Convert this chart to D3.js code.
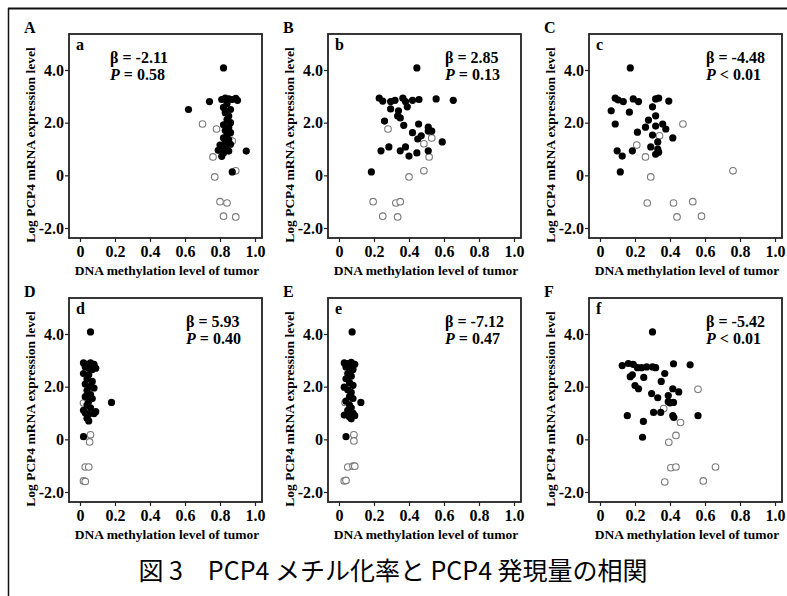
<!DOCTYPE html>
<html>
<head>
<meta charset="utf-8">
<script src="https://cdn.jsdelivr.net/npm/d3@7"></script>
<style>
  html, body { margin: 0; padding: 0; background: #fff; }
  svg { display: block; }
  .serif { font-family: 'Liberation Serif', 'Times New Roman', serif; font-weight: bold; }
</style>
</head>
<body>
<svg id="chart" width="787" height="596"></svg>
<script>
// ---------------- DATA ----------------
const xTickValues = [0, 0.2, 0.4, 0.6, 0.8, 1.0];
const xTickLabels = ["0", "0.2", "0.4", "0.6", "0.8", "1.0"];
const yTickValues = [-2, 0, 2, 4];
const yTickLabels = ["-2.0", "0", "2.0", "4.0"];

const panelLetters = ["A", "B", "C", "D", "E", "F"];
const innerLetters = ["a", "b", "c", "d", "e", "f"];
const betaValues = ["-2.11", "2.85", "-4.48", "5.93", "-7.12", "-5.42"];
const pValues = ["= 0.58", "= 0.13", "< 0.01", "= 0.40", "= 0.47", "< 0.01"];

const xTitle = "DNA methylation level of tumor";
const yTitle = "Log PCP4 mRNA expression level";
const caption = "図 3\u3000PCP4 メチル化率と PCP4 発現量の相関";

const filledA = [[0.82,4.08],[0.62,2.50],[0.74,2.80],[0.81,2.88],[0.83,2.93],[0.85,2.90],[0.87,2.88],[0.89,2.92],[0.90,2.85],[0.84,2.72],[0.82,2.58],[0.86,2.50],[0.83,2.38],[0.85,2.25],[0.84,2.12],[0.86,2.00],[0.82,1.92],[0.85,1.82],[0.83,1.70],[0.86,1.62],[0.84,1.52],[0.82,1.42],[0.85,1.35],[0.83,1.25],[0.80,1.15],[0.86,1.18],[0.81,1.05],[0.84,1.00],[0.79,0.95],[0.82,0.85],[0.81,0.72],[0.85,0.92],[0.95,0.92],[0.87,0.13]];
const openA = [[0.70,1.95],[0.78,1.76],[0.85,1.45],[0.87,1.30],[0.76,0.70],[0.89,0.17],[0.77,-0.06],[0.80,-1.00],[0.84,-1.05],[0.82,-1.55],[0.89,-1.58]];

const filledB = [[0.445,4.08],[0.23,2.93],[0.25,2.82],[0.295,2.80],[0.32,2.85],[0.365,2.93],[0.38,2.80],[0.42,2.85],[0.457,2.88],[0.555,2.90],[0.653,2.85],[0.295,2.52],[0.34,2.45],[0.39,2.60],[0.335,2.25],[0.35,2.18],[0.26,2.06],[0.37,1.90],[0.455,1.95],[0.51,1.83],[0.53,1.68],[0.42,1.62],[0.47,1.50],[0.45,1.38],[0.51,1.68],[0.59,1.27],[0.24,0.93],[0.285,1.08],[0.35,0.93],[0.38,1.08],[0.40,0.73],[0.445,0.85],[0.51,0.93],[0.185,0.13]];
const openB = [[0.28,1.76],[0.53,1.42],[0.485,1.20],[0.515,0.70],[0.485,0.17],[0.40,-0.06],[0.195,-1.00],[0.325,-1.05],[0.35,-1.00],[0.25,-1.55],[0.335,-1.58]];

const filledC = [[0.173,4.08],[0.087,2.93],[0.104,2.86],[0.133,2.80],[0.19,2.90],[0.22,2.80],[0.064,2.45],[0.168,2.40],[0.318,2.90],[0.335,2.93],[0.393,2.82],[0.30,2.60],[0.277,2.10],[0.318,2.26],[0.087,1.95],[0.26,1.83],[0.318,1.87],[0.358,1.95],[0.376,1.76],[0.214,1.64],[0.30,1.53],[0.416,1.42],[0.33,1.27],[0.098,0.93],[0.127,0.73],[0.185,0.93],[0.29,1.08],[0.33,1.00],[0.335,0.88],[0.318,0.80],[0.116,0.13]];
const openC = [[0.474,1.95],[0.34,1.50],[0.21,1.15],[0.26,0.70],[0.76,0.17],[0.29,-0.06],[0.27,-1.05],[0.42,-1.05],[0.53,-1.00],[0.44,-1.58],[0.58,-1.55]];

const filledD = [[0.06,4.08],[0.02,2.90],[0.04,2.85],[0.06,2.90],[0.08,2.85],[0.03,2.75],[0.05,2.70],[0.07,2.65],[0.09,2.70],[0.02,2.50],[0.05,2.45],[0.04,2.30],[0.07,2.20],[0.03,2.10],[0.06,2.00],[0.08,1.95],[0.04,1.85],[0.06,1.70],[0.03,1.62],[0.07,1.55],[0.05,1.45],[0.04,1.30],[0.06,1.20],[0.02,1.10],[0.09,1.05],[0.03,1.00],[0.05,0.95],[0.08,0.98],[0.04,0.80],[0.05,0.70],[0.18,1.40],[0.02,0.10]];
const openD = [[0.02,1.38],[0.04,1.55],[0.06,0.17],[0.055,-0.10],[0.03,-1.05],[0.05,-1.05],[0.02,-1.58],[0.03,-1.60]];

const filledE = [[0.075,4.08],[0.03,2.90],[0.05,2.88],[0.07,2.92],[0.09,2.85],[0.04,2.75],[0.06,2.70],[0.08,2.65],[0.05,2.50],[0.07,2.40],[0.04,2.30],[0.06,2.15],[0.08,2.05],[0.03,1.98],[0.05,1.88],[0.07,1.78],[0.06,1.62],[0.08,1.55],[0.04,1.45],[0.06,1.30],[0.07,1.20],[0.05,1.10],[0.08,1.00],[0.03,0.92],[0.06,0.85],[0.07,0.78],[0.09,0.90],[0.125,1.40],[0.04,0.10]];
const openE = [[0.035,1.40],[0.06,1.55],[0.085,0.17],[0.085,-0.06],[0.05,-1.05],[0.08,-1.02],[0.09,-1.02],[0.03,-1.58],[0.04,-1.56]];

const filledF = [[0.30,4.08],[0.127,2.80],[0.162,2.88],[0.19,2.85],[0.214,2.72],[0.237,2.72],[0.266,2.75],[0.30,2.75],[0.318,2.72],[0.42,2.87],[0.515,2.83],[0.173,2.38],[0.185,2.45],[0.25,2.35],[0.37,2.50],[0.35,2.20],[0.20,2.04],[0.22,1.92],[0.295,1.74],[0.33,1.58],[0.416,1.92],[0.45,1.80],[0.39,1.66],[0.39,1.43],[0.40,1.38],[0.42,1.40],[0.156,0.90],[0.248,0.68],[0.306,1.02],[0.347,1.02],[0.416,0.90],[0.422,0.83],[0.56,0.90],[0.243,0.08]];
const openF = [[0.56,1.90],[0.364,1.17],[0.46,0.64],[0.434,0.15],[0.393,-0.11],[0.405,-1.08],[0.434,-1.05],[0.66,-1.05],[0.37,-1.62],[0.59,-1.58]];

const filledSets = [filledA, filledB, filledC, filledD, filledE, filledF];
const openSets = [openA, openB, openC, openD, openE, openF];

// ---------------- LAYOUT ----------------
const svg = d3.select("#chart");
const colLefts = [69, 328, 589];
const rowTops = [34, 298];
const boxW = 193, boxH = 204;
const statsOffset = [41, 117, 117, 117, 117, 117];

// outer frame
svg.append("line").attr("x1", 8).attr("x2", 787).attr("y1", 8.5).attr("y2", 8.5)
  .attr("stroke", "#111").attr("stroke-width", 2);
svg.append("line").attr("x1", 8.5).attr("x2", 8.5).attr("y1", 8).attr("y2", 596)
  .attr("stroke", "#111").attr("stroke-width", 1.5);

for (let i = 0; i < 6; i++) {
  const left = colLefts[i % 3];
  const top = rowTops[Math.floor(i / 3)];
  const g = svg.append("g");

  const x = d3.scaleLinear().domain([0, 1]).range([left + 11, left + 186]);
  const y = d3.scaleLinear().domain([-2, 4]).range([top + 194, top + 36]);

  // box
  g.append("rect").attr("x", left).attr("y", top).attr("width", boxW).attr("height", boxH)
    .attr("fill", "none").attr("stroke", "#222").attr("stroke-width", 1.8);

  // x axis
  const xAxis = d3.axisBottom(x).tickValues(xTickValues)
    .tickFormat((d, k) => xTickLabels[k]).tickSize(4).tickPadding(4);
  const gx = g.append("g").attr("transform", `translate(0,${top + boxH})`).call(xAxis);
  gx.attr("font-family", null).attr("font-size", null);
  gx.select(".domain").remove();
  gx.selectAll("line").attr("stroke", "#222").attr("stroke-width", 1.2);
  gx.selectAll("text").attr("class", "serif").style("font-size", "16px").attr("fill", "#000");

  // y axis
  const yAxis = d3.axisLeft(y).tickValues(yTickValues)
    .tickFormat((d, k) => yTickLabels[k]).tickSize(4).tickPadding(1);
  const gy = g.append("g").attr("transform", `translate(${left},0)`).call(yAxis);
  gy.attr("font-family", null).attr("font-size", null);
  gy.select(".domain").remove();
  gy.selectAll("line").attr("stroke", "#222").attr("stroke-width", 1.2);
  gy.selectAll("text").attr("class", "serif").style("font-size", "16px").attr("fill", "#000");

  // titles
  g.append("text").attr("class", "serif").attr("x", left + 98).attr("y", top + boxH + 37)
    .attr("text-anchor", "middle").style("font-size", "13.5px").text(xTitle);
  g.append("text").attr("class", "serif")
    .attr("transform", `translate(${left - 34},${top + 111}) rotate(-90)`)
    .attr("text-anchor", "middle").style("font-size", "13.5px").text(yTitle);

  // letters
  g.append("text").attr("class", "serif").attr("x", left - 45).attr("y", top - 1)
    .style("font-size", "16px").text(panelLetters[i]);
  g.append("text").attr("class", "serif").attr("x", left + 7).attr("y", top + 16)
    .style("font-size", "16px").text(innerLetters[i]);

  // stats
  const sx = left + statsOffset[i];
  g.append("text").attr("class", "serif").attr("x", sx).attr("y", top + 29)
    .style("font-size", "16px").text("β = " + betaValues[i]);
  const pt = g.append("text").attr("class", "serif").attr("x", sx).attr("y", top + 46)
    .style("font-size", "16px");
  pt.append("tspan").attr("font-style", "italic").text("P");
  pt.append("tspan").text(" " + pValues[i]);

  // points
  g.append("g").selectAll("circle").data(openSets[i]).join("circle")
    .attr("cx", d => x(d[0])).attr("cy", d => y(d[1])).attr("r", 3.3)
    .attr("fill", "#fff").attr("stroke", "#7a7a7a").attr("stroke-width", 1.1);
  g.append("g").selectAll("circle").data(filledSets[i]).join("circle")
    .attr("cx", d => x(d[0])).attr("cy", d => y(d[1])).attr("r", 3.6)
    .attr("fill", "#000");
}

// caption
svg.append("text").attr("x", 393).attr("y", 580).attr("text-anchor", "middle")
  .style("font-family", "'Noto Sans CJK JP', 'Noto Sans', sans-serif")
  .style("font-size", "25px").attr("fill", "#000").text(caption);
</script>
</body>
</html>
